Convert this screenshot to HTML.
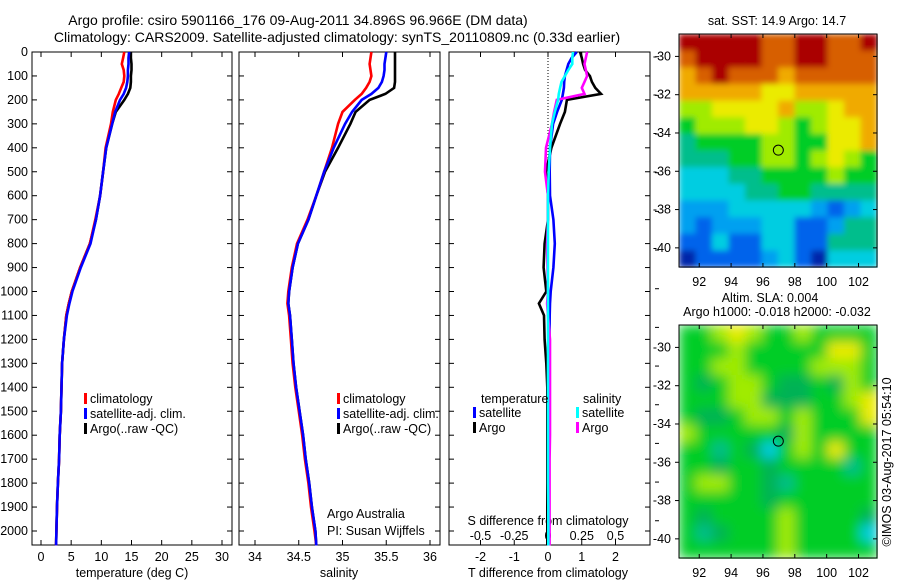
<!DOCTYPE html>
<html><head><meta charset="utf-8"><style>
body{margin:0;background:#fff;}
svg text{font-family:"Liberation Sans",sans-serif;font-size:12.5px;fill:#000;}
</style></head><body>
<svg id="c" width="900" height="580" xmlns="http://www.w3.org/2000/svg">
<defs>
<filter id="blurS" x="0" y="0" width="1" height="1"><feGaussianBlur stdDeviation="3" edgeMode="duplicate"/></filter>
<filter id="blurL" x="0" y="0" width="1" height="1"><feGaussianBlur stdDeviation="6" edgeMode="duplicate"/></filter>
</defs>
<rect width="900" height="580" fill="#fff"/>
<text x="298" y="25" text-anchor="middle" style="font-size:14px">Argo profile: csiro 5901166_176 09-Aug-2011 34.896S 96.966E (DM data)</text>
<text x="337" y="42" text-anchor="middle" style="font-size:14px">Climatology: CARS2009. Satellite-adjusted climatology: synTS_20110809.nc (0.33d earlier)</text>
<g id="g"></g>
</svg>
<script>
const depths=[0,25,50,75,100,125,150,175,200,250,300,400,500,600,700,800,900,1000,1050,1100,1200,1300,1400,1500,1600,1700,1800,1900,2000,2060];
const tempArgo=[14.9,14.9,15.0,15.0,14.9,14.9,14.8,14.4,13.8,12.4,11.8,10.8,10.3,9.8,9.1,8.1,6.5,5.1,4.6,4.2,3.8,3.5,3.4,3.3,3.1,3.0,2.8,2.65,2.55,2.5];
const tempClim=[13.8,13.6,13.4,13.7,13.8,13.7,13.3,12.9,12.4,11.9,11.6,10.7,10.3,9.8,9.0,8.1,6.5,5.1,4.6,4.2,3.8,3.5,3.4,3.3,3.1,3.0,2.8,2.65,2.55,2.5];
const tempSat=[14.6,14.5,14.5,14.4,14.4,14.3,14.1,13.7,13.1,12.3,11.8,10.8,10.3,9.8,9.1,8.2,6.6,5.2,4.7,4.3,3.8,3.5,3.4,3.3,3.1,3.0,2.8,2.65,2.55,2.5];
const salArgo=[35.6,35.6,35.6,35.6,35.6,35.6,35.59,35.49,35.31,35.15,35.09,34.95,34.8,34.7,34.61,34.49,34.43,34.39,34.38,34.4,34.42,34.44,34.47,34.51,34.55,34.58,34.62,34.65,34.69,34.7];
const salClim=[35.33,35.32,35.31,35.32,35.33,35.31,35.27,35.22,35.14,35.0,34.95,34.88,34.79,34.7,34.6,34.48,34.42,34.38,34.37,34.39,34.41,34.43,34.46,34.5,34.54,34.57,34.61,34.64,34.68,34.7];
const salSat=[35.5,35.49,35.48,35.48,35.47,35.45,35.41,35.33,35.22,35.11,35.03,34.9,34.79,34.7,34.61,34.49,34.43,34.39,34.38,34.4,34.42,34.44,34.47,34.51,34.55,34.58,34.62,34.65,34.69,34.7];
const dTArgo=[0.95,1.0,1.04,1.1,1.24,1.3,1.4,1.57,0.56,0.5,0.36,0.1,-0.06,0,0,-0.1,-0.13,-0.05,-0.27,-0.12,-0.1,-0.05,-0.02,-0.02,-0.02,-0.02,-0.02,-0.02,-0.02,-0.02];
const dTSat=[0.85,0.7,0.6,0.55,0.5,0.48,0.47,0.44,0.41,0.27,0.15,0.06,0.05,0.06,0.16,0.2,0.16,0.08,0.06,0.05,0.04,0.03,0.02,0.02,0.02,0.02,0.02,0.02,0.02,0.02];
const dSSat=[0.185,0.18,0.18,0.15,0.125,0.1,0.09,0.08,0.075,0.05,0.03,0.015,0.005,0.0,0.0,0.0,0.0,0.0,0.0,0.0,0.0,0.0,0.0,0.0,0.0,0.0,0.0,0.002,0.002,0.002];
const dSArgo=[0.29,0.28,0.27,0.28,0.29,0.27,0.25,0.27,0.065,0.045,0.03,-0.015,-0.022,0.0,0.0,-0.007,-0.004,0.0,-0.007,0.0,0.015,0.015,0.015,0.015,0.015,0.012,0.012,0.012,0.012,0.012];
const depthTicks=[0,100,200,300,400,500,600,700,800,900,1000,1100,1200,1300,1400,1500,1600,1700,1800,1900,2000];
const tempTicks=[0,5,10,15,20,25,30];
const salTicks=[34,34.5,35,35.5,36];
const salTickLabels=["34","34.5","35","35.5","36"];
const dTTicks=[-2,-1,0,1,2];
const dSTicks=[-0.5,-0.25,0,0.25,0.5];
const dSTickLabels=["-0.5","-0.25","0","0.25","0.5"];
const lonTicks=[92,94,96,98,100,102];
const latTicks=[-30,-32,-34,-36,-38,-40];
const palette=["rgb(0,40,170)","rgb(0,100,235)","rgb(0,160,240)","rgb(0,205,225)","rgb(0,190,140)","rgb(0,205,40)","rgb(160,235,0)","rgb(235,235,0)","rgb(240,170,0)","rgb(215,95,0)","rgb(170,0,0)","rgb(0,178,85)"];
const sstGrid=[
[10,10,10,10,10,9,9,10,10,9,9,10],
[9,10,10,10,10,9,9,10,10,9,9,9],
[8,9,10,9,9,9,8,9,9,9,9,9],
[8,8,8,8,8,7,7,8,8,8,8,8],
[6,6,7,7,7,7,8,6,6,7,8,8],
[5,6,6,6,7,7,6,5,6,7,7,8],
[4,5,5,5,5,6,6,5,5,7,7,8],
[4,4,4,5,5,6,6,5,6,7,6,5],
[3,3,3,4,4,5,5,5,5,6,5,5],
[3,3,3,3,4,4,5,5,4,4,4,4],
[2,2,2,3,3,3,3,3,2,1,2,3],
[2,1,2,2,2,3,3,1,1,2,4,4],
[1,1,3,1,1,3,3,1,1,4,4,4],
[0,1,1,1,1,2,3,1,0,3,3,3]];
const slaGrid=[
[5,5,6,7,6,5,5,6,5,5,5,5],
[5,5,5,6,5,5,5,5,5,7,7,5],
[5,5,6,6,5,5,5,5,6,6,6,5],
[5,11,5,6,6,5,11,11,5,11,6,5],
[5,5,5,6,6,11,11,11,5,5,6,7],
[5,11,11,5,6,6,5,6,5,5,5,7],
[6,5,5,5,5,5,11,6,5,5,5,5],
[5,5,4,5,11,3,5,6,5,7,5,5],
[5,5,11,5,5,11,5,5,5,5,4,5],
[5,6,6,5,5,11,4,5,5,5,5,5],
[5,5,5,5,5,11,5,5,5,5,5,5],
[5,11,5,5,5,5,6,5,5,5,5,11],
[5,4,11,5,5,5,6,5,5,5,5,3],
[5,5,5,5,5,5,6,5,5,5,5,5]];
const floatLon=96.966, floatLat=-34.896;

const NS="http://www.w3.org/2000/svg";
const G=document.getElementById('g');
function el(tag,attrs,parent){const e=document.createElementNS(NS,tag);for(const k in attrs)e.setAttribute(k,attrs[k]);(parent||G).appendChild(e);return e;}
function txt(x,y,s,anchor,parent){const t=el('text',{x:x,y:y,'text-anchor':anchor||'start'},parent);t.textContent=s;return t;}
const PT=52, PB=545;
function yD(d){return PT+d*0.2395;}
function lin(v0,p0,v1,p1){return v=>p0+(v-v0)*(p1-p0)/(v1-v0);}
const xT=lin(0,41,30,222), xS=lin(34,255,36,430), xDT=lin(0,548,2,615.5), xDS=lin(0,548,0.5,615.5);

function panel(name,x0,x1){
  const g=el('g',{});
  
  
  el('rect',{x:x0,y:PT,width:x1-x0,height:PB-PT,fill:'none',stroke:'#000','stroke-width':1},g);
  depthTicks.forEach(d=>{el('line',{x1:x0,x2:x0+5,y1:yD(d),y2:yD(d),stroke:'#000'},g);el('line',{x1:x1-5,x2:x1,y1:yD(d),y2:yD(d),stroke:'#000'},g);});
  return g;
}
function xticks(g,ticks,labels,sc){ticks.forEach((t,i)=>{const x=sc(t);el('line',{x1:x,x2:x,y1:PB,y2:PB-5,stroke:'#000'},g);el('line',{x1:x,x2:x,y1:PT,y2:PT+5,stroke:'#000'},g);txt(x,561,labels[i],'middle',g);});}
function line(g,name,vals,sc,col){
  const pts=vals.map((v,i)=>sc(v).toFixed(1)+','+yD(depths[i]).toFixed(1)).join(' ');
  const p=el('polyline',{points:pts,fill:'none',stroke:col,'stroke-width':2.6,'stroke-linejoin':'miter'},g);
  
  
}
function legendEntry(g,name,x,y,col,label){
  const e=el('g',{},g);
  
  
  el('rect',{x:x,y:y-10,width:3,height:11,fill:col},e);
  txt(x+6,y,label,'start',e);
}

const yl=el('g',{});


depthTicks.forEach(d=>txt(28,yD(d)+4,String(d),'end',yl));

const p1=panel('temperature-panel',32,232);
xticks(p1,tempTicks,tempTicks.map(String),xT);
const t1=txt(132,577,'temperature (deg C)','middle',p1);


line(p1,'temp-argo-line',tempArgo,xT,'#000');
line(p1,'temp-climatology-line',tempClim,xT,'#f00');
line(p1,'temp-satellite-line',tempSat,xT,'#00f');
legendEntry(p1,'legend-climatology',84,403,'#f00','climatology');
legendEntry(p1,'legend-satellite-adj',84,418,'#00f','satellite-adj. clim.');
legendEntry(p1,'legend-argo',84,433,'#000','Argo(..raw -QC)');

const p2=panel('salinity-panel',239,440);
xticks(p2,salTicks,salTickLabels,xS);
const t2=txt(339,577,'salinity','middle',p2);


line(p2,'sal-argo-line',salArgo,xS,'#000');
line(p2,'sal-climatology-line',salClim,xS,'#f00');
line(p2,'sal-satellite-line',salSat,xS,'#00f');
legendEntry(p2,'legend-climatology-2',337,403,'#f00','climatology');
legendEntry(p2,'legend-satellite-adj-2',337,418,'#00f','satellite-adj. clim.');
legendEntry(p2,'legend-argo-2',337,433,'#000','Argo(..raw -QC)');
const ca=txt(327,518,'Argo Australia','start',p2);
const cp=txt(327,535,'PI: Susan Wijffels','start',p2);

const p3=panel('difference-panel',449,650);
dTTicks.forEach(t=>{const x=xDT(t);el('line',{x1:x,x2:x,y1:PB,y2:PB-5,stroke:'#000'},p3);el('line',{x1:x,x2:x,y1:PT,y2:PT+5,stroke:'#000'},p3);txt(x,561,String(t),'middle',p3);});
dSTicks.forEach((t,i)=>txt(xDS(t),540,dSTickLabels[i],'middle',p3));
el('line',{x1:548,x2:548,y1:PT,y2:PB,stroke:'#000','stroke-dasharray':'1,2'},p3);
const t3=txt(548,577,'T difference from climatology','middle',p3);
const t4=txt(548,525,'S difference from climatology','middle',p3);
line(p3,'tdiff-argo-line',dTArgo,xDT,'#000');
line(p3,'tdiff-satellite-line',dTSat,xDT,'#00f');
line(p3,'sdiff-argo-line',dSArgo,xDS,'#f0f');
line(p3,'sdiff-satellite-line',dSSat,xDS,'#0ff');
txt(481,403,'temperature','start',p3);
txt(583,403,'salinity','start',p3);
legendEntry(p3,'legend-t-satellite',473,417,'#00f','satellite');
legendEntry(p3,'legend-t-argo',473,432,'#000','Argo');
legendEntry(p3,'legend-s-satellite',576,417,'#0ff','satellite');
legendEntry(p3,'legend-s-argo',576,432,'#f0f','Argo');
for(let i=0;i<13;i++){const y=56.7+i*38.67;if(y<545)el('line',{x1:655,x2:659,y1:y,y2:y,stroke:'#000'},p3);}

const LON0=90.73,LON1=103.16,LAT0=-28.83,LAT1=-41.0;
function map(name,grid,top,filt){
  const g=el('g',{});
  
  
  const xL=lin(LON0,679,LON1,877), yL=lin(LAT0,top,LAT1,top+233);
  const rows=grid.length, cols=grid[0].length;
  const dLon=(LON1-LON0)/cols, dLat=(LAT0-LAT1)/rows;
  const cg=el('g',{filter:'url(#'+filt+')'},g);
  el('rect',{x:679,y:top,width:198,height:233,fill:palette[5]},cg);
  grid.forEach((row,r)=>row.forEach((v,c)=>{
    const x=xL(LON0+c*dLon), y=yL(LAT0-r*dLat);
    const cell=el('rect',{x:x.toFixed(1),y:y.toFixed(1),width:(xL(LON0+(c+1)*dLon)-x+0.6).toFixed(1),height:(yL(LAT0-(r+1)*dLat)-y+0.6).toFixed(1),fill:palette[v]},cg);
    
    
  }));
  el('rect',{x:679,y:top,width:198,height:233,fill:'none',stroke:'#000'},g);
  lonTicks.forEach(l=>{const x=xL(l);el('line',{x1:x,x2:x,y1:top,y2:top+4,stroke:'#000'},g);el('line',{x1:x,x2:x,y1:top+233,y2:top+229,stroke:'#000'},g);txt(x,top+252,String(l),'middle',g);});
  latTicks.forEach(l=>{const y=yL(l);el('line',{x1:675,x2:679,y1:y,y2:y,stroke:'#000'},g);el('line',{x1:873,x2:877,y1:y,y2:y,stroke:'#000'},g);txt(671,y+4,String(l),'end',g);});
  const m=el('circle',{cx:xL(floatLon),cy:yL(floatLat),r:5,fill:'none',stroke:'#000'},g);
  
  
  return g;
}
const m1=map('sst-map',sstGrid,34,'blurS');
txt(777,25,'sat. SST: 14.9 Argo: 14.7','middle',m1);
const m2=map('sla-map',slaGrid,325,'blurL');
txt(770,302,'Altim. SLA: 0.004','middle',m2);
txt(777,316,'Argo h1000: -0.018 h2000: -0.032','middle',m2);
const cr=txt(0,0,'©IMOS 03-Aug-2017 05:54:10','middle');
cr.setAttribute('transform','translate(891,462) rotate(-90)');


</script>
</body></html>
